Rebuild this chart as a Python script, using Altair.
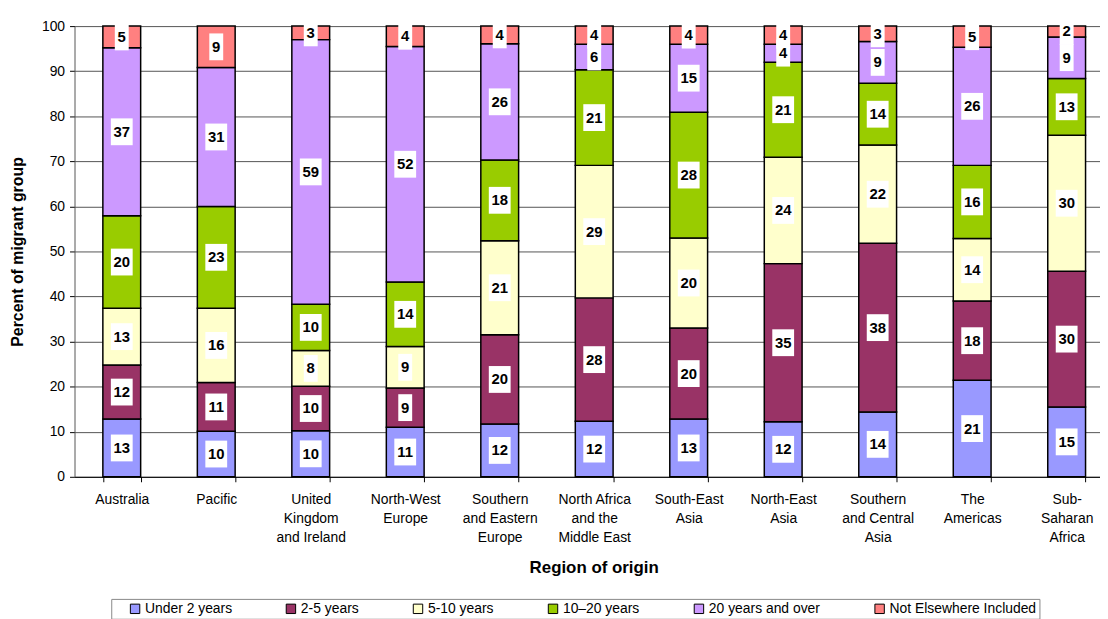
import altair as alt
import pandas as pd

categories = [
    "Australia", "Pacific", "United\nKingdom\nand Ireland", "North-West\nEurope",
    "Southern\nand Eastern\nEurope", "North Africa\nand the\nMiddle East",
    "South-East\nAsia", "North-East\nAsia", "Southern\nand Central\nAsia",
    "The\nAmericas", "Sub-\nSaharan\nAfrica",
]
groups = ["Under 2 years", "2-5 years", "5-10 years", "10–20 years",
          "20 years and over", "Not Elsewhere Included"]
colors = ["#9999FF", "#993366", "#FFFFCC", "#99CC00", "#CC99FF", "#FF8080"]

# segment sizes (percent)
under2 = [12.8, 10.1, 10.2, 11.0, 11.7, 12.3, 12.8, 12.2, 14.4, 21.4, 15.5]
y2_5 = [12.0, 10.8, 9.9, 8.7, 19.8, 27.4, 20.2, 35.1, 37.4, 17.6, 30.1]
y5_10 = [12.6, 16.5, 7.9, 9.2, 20.9, 29.4, 20.0, 23.6, 21.8, 13.9, 30.2]
y10_20 = [20.5, 22.6, 10.3, 14.3, 17.9, 21.2, 27.9, 21.1, 13.7, 16.2, 12.6]
y20plus = [37.3, 30.8, 58.7, 52.3, 25.8, 5.7, 15.1, 4.0, 9.3, 26.2, 9.2]
nei = [4.8, 9.2, 3.0, 4.5, 3.9, 4.0, 4.0, 4.0, 3.4, 4.7, 2.4]

# printed labels
lab_under2 = [13, 10, 10, 11, 12, 12, 13, 12, 14, 21, 15]
lab_2_5 = [12, 11, 10, 9, 20, 28, 20, 35, 38, 18, 30]
lab_5_10 = [13, 16, 8, 9, 21, 29, 20, 24, 22, 14, 30]
lab_10_20 = [20, 23, 10, 14, 18, 21, 28, 21, 14, 16, 13]
lab_20plus = [37, 31, 59, 52, 26, 6, 15, 4, 9, 26, 9]
lab_nei = [5, 9, 3, 4, 4, 4, 4, 4, 3, 5, 2]

series = [under2, y2_5, y5_10, y10_20, y20plus, nei]
labels = [lab_under2, lab_2_5, lab_5_10, lab_10_20, lab_20plus, lab_nei]

rows = []
for i, cat in enumerate(categories):
    cum = 0.0
    for g, vals, labs in zip(groups, series, labels):
        v = vals[i]
        rows.append({
            "region": cat, "group": g, "start": cum, "end": cum + v,
            "mid": cum + v / 2, "label": str(labs[i]),
            "digits": str(len(str(labs[i]))),
        })
        cum += v
df = pd.DataFrame(rows)

FONT = "Liberation Sans"

x_enc = alt.X(
    "region:N", sort=categories,
    scale=alt.Scale(paddingInner=0.6, paddingOuter=0.3, rangeMax=1047),
    axis=alt.Axis(
        labelExpr="split(datum.label, '\\n')", labelAngle=0, labelFontSize=14,
        labelFont=FONT, labelColor="black", labelLineHeight=19, labelBaseline="top",
        labelPadding=11, labelLimit=300, tickBand="extent", tickSize=5,
        tickColor="black", domainColor="black", grid=False,
        title="Region of origin", titleFont=FONT, titleFontSize=17,
        titleFontWeight="bold", titleColor="black", titleX=523, titleY=91,
        titleBaseline="middle", titleAlign="center",
    ),
)

def y_enc(field):
    return alt.Y(
        field, scale=alt.Scale(domain=[0, 100], nice=False),
        axis=alt.Axis(
            values=list(range(0, 101, 10)), grid=True, gridColor="#555555",
            gridWidth=1, domainColor="#555555", tickColor="black", tickSize=5,
            labelFontSize=14, labelFont=FONT, labelColor="black", labelPadding=5,
            title="Percent of migrant group", titleFont=FONT, titleFontSize=16,
            titleFontWeight="bold", titleColor="black", titleAngle=270,
            titleX=-57, titleY=227, titleBaseline="middle", titleAlign="center",
        ),
    )

base = alt.Chart(df)

bars = base.mark_bar(stroke="black", strokeWidth=1.5).encode(
    x=x_enc,
    y=y_enc("start:Q"),
    y2="end:Q",
    color=alt.Color(
        "group:N", sort=groups,
        scale=alt.Scale(domain=groups, range=colors),
        legend=alt.Legend(
            orient="none", legendX=37, legendY=577, direction="horizontal",
            columns=6, title=" ", titleOrient="left", titlePadding=14,
            titleFontSize=8,
            symbolType="square", symbolSize=90, symbolStrokeColor="black",
            symbolStrokeWidth=1, labelFontSize=14, labelFont=FONT,
            labelColor="black", columnPadding=52, padding=3,
            strokeColor="#888888", fillColor="white", gridAlign="none",
            labelOffset=3, labelLimit=300,
        ),
    ),
)

p1 = "M-1,-1.93L1,-1.93L1,1.93L-1,1.93Z"
p2 = "M-1.57,-1.93L1.57,-1.93L1.57,1.93L-1.57,1.93Z"

boxes = base.mark_point(filled=True, opacity=1, strokeWidth=0).encode(
    x=x_enc,
    y=y_enc("mid:Q"),
    shape=alt.Shape("digits:N", scale=alt.Scale(domain=["1", "2"], range=[p1, p2]), legend=None),
    size=alt.value(196),
    color=alt.value("white"),
)

texts = base.mark_text(font=FONT, fontSize=15, fontWeight="bold", color="black",
                       baseline="middle", align="center").encode(
    x=x_enc,
    y=y_enc("mid:Q"),
    text="label:N",
)

chart = alt.layer(bars, boxes, texts).properties(
    width=1033, height=454,
    autosize=alt.AutoSizeParams(type="none"),
    padding={"left": 67, "top": 16, "right": 0, "bottom": 141},
).configure_view(stroke=None)

chart.save("out.html", embed_options={"renderer": "svg", "actions": False})
